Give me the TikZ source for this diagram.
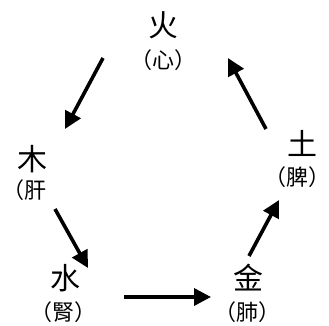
\documentclass[tikz,border=0pt]{standalone}
\usepackage{fontspec}
\usepackage{tikz}
\usetikzlibrary{arrows.meta}
\newfontfamily\cjk{Noto Sans CJK TC}

\begin{document}
\begin{tikzpicture}[x=1pt,y=-1pt,
    element/.style={font=\cjk\fontsize{30}{30}\selectfont,inner sep=0pt},
    organ/.style={font=\cjk\fontsize{22}{22}\selectfont,inner sep=0pt},
    flow/.style={line width=3.6pt,-{Triangle[length=17pt,width=17pt]}}]
        \useasboundingbox (0,0) rectangle (329,326);
        % elements and their organs
        \node[element] (huo) at (163,25) {火};
        \node[organ] (xin) at (163,60) {（心）};
        \node[element] (mu) at (32,159) {木};
        \node[organ] (gan) at (24,190) {（肝};
        \node[element] (tu) at (302,143) {土};
        \node[organ] (pi) at (297,177) {（脾）};
        \node[element] (shui) at (65,278) {水};
        \node[organ] (shen) at (63,312) {（腎）};
        \node[element] (jin) at (248,278) {金};
        \node[organ] (fei) at (247,312) {（肺）};
        % ends of the arrows
        \coordinate (huo-out) at (103,58);
        \coordinate (mu-in) at (65,129);
        \coordinate (mu-out) at (55,209);
        \coordinate (shui-in) at (88,268);
        \coordinate (shui-out) at (124,297);
        \coordinate (jin-in) at (211,297);
        \coordinate (jin-out) at (249,256);
        \coordinate (tu-in) at (279,200);
        \coordinate (tu-out) at (266,129);
        \coordinate (huo-in) at (228,58);
        \draw[flow] (huo-out)--(mu-in);
        \draw[flow] (mu-out)--(shui-in);
        \draw[flow] (shui-out)--(jin-in);
        \draw[flow] (jin-out)--(tu-in);
        \draw[flow] (tu-out)--(huo-in);
      \end{tikzpicture}
\end{document}
